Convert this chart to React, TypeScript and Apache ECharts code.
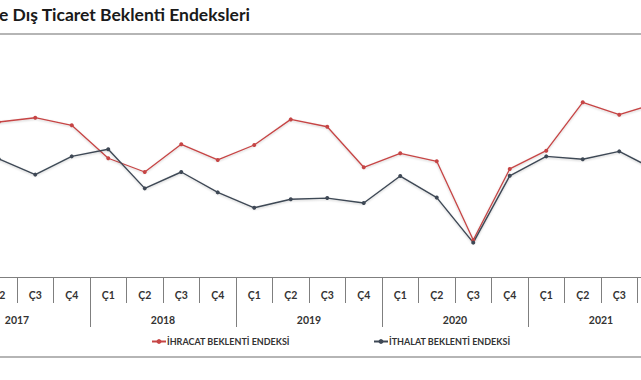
import React, { useEffect, useRef } from "react";
import * as echarts from "echarts";

const quarters = [
  "Ç1", "Ç2", "Ç3", "Ç4",
  "Ç1", "Ç2", "Ç3", "Ç4",
  "Ç1", "Ç2", "Ç3", "Ç4",
  "Ç1", "Ç2", "Ç3", "Ç4",
  "Ç1", "Ç2", "Ç3", "Ç4",
];
const years = ["2017", "2018", "2019", "2020", "2021"];

// First quarter of 2017 lies outside the visible crop: left empty.
const ihracat: (number | null)[] = [
  null, 65.4, 67.2, 64.0,
  50.1, 44.3, 56.0, 49.4,
  55.7, 66.5, 63.4, 46.3,
  52.2, 48.8, 15.6, 45.6,
  53.3, 73.7, 68.5, 73.2,
];
const ithalat: (number | null)[] = [
  null, 49.8, 43.2, 50.9,
  53.9, 37.4, 44.3, 35.7,
  29.2, 32.8, 33.3, 31.2,
  42.6, 33.5, 14.5, 42.7,
  50.9, 49.7, 53.0, 45.1,
];

const seriesNames = ["İHRACAT BEKLENTİ ENDEKSİ", "İTHALAT BEKLENTİ ENDEKSİ"];
const titleText = "e Dış Ticaret Beklenti Endeksleri";

const OFFSET = 56; // chart canvas starts 56px left of the visible window
const CHART_W = 730;

export default function App() {
  const ref = useRef<HTMLDivElement>(null);
  useEffect(() => {
    if (!ref.current) return;
    const chart = echarts.init(ref.current, null, { renderer: "svg" });
    const font = "Lato, 'Open Sans', sans-serif";
    chart.setOption({
      animation: false,
      backgroundColor: "#ffffff",
      textStyle: { fontFamily: font },
      title: {
        text: titleText,
        left: OFFSET - 1,
        top: 5,
        padding: 0,
        textStyle: { fontSize: 17.5, fontWeight: "bold", color: "#1a1a1a", fontFamily: font },
      },
      legend: [
        {
          data: [seriesNames[0]],
          left: OFFSET + 151,
          top: 337,
          padding: 0,
          itemWidth: 14,
          itemHeight: 6,
          textStyle: { fontSize: 9, fontWeight: "bold", color: "#333", fontFamily: font, padding: [0, 0, 0, -4] },
        },
        {
          data: [seriesNames[1]],
          left: OFFSET + 373,
          top: 337,
          padding: 0,
          itemWidth: 14,
          itemHeight: 6,
          textStyle: { fontSize: 9, fontWeight: "bold", color: "#333", fontFamily: font, padding: [0, 0, 0, -4] },
        },
      ],
      graphic: [
        { type: "line", shape: { x1: OFFSET, y1: 34, x2: OFFSET + 641, y2: 34 }, style: { stroke: "#b5b5b5", lineWidth: 2 } },
        { type: "line", shape: { x1: OFFSET, y1: 357, x2: OFFSET + 641, y2: 357 }, style: { stroke: "#b5b5b5", lineWidth: 2 } },
      ],
      grid: { left: 0, right: 0, top: 40, bottom: 103, containLabel: false },
      xAxis: [
        {
          type: "category",
          data: quarters,
          boundaryGap: true,
          position: "bottom",
          axisLine: { show: true, lineStyle: { color: "#7f7f7f", width: 1 } },
          axisTick: { show: true, interval: 0, length: 26, lineStyle: { color: "#7f7f7f" } },
          axisLabel: { interval: 0, margin: 12, fontSize: 10.5, fontWeight: "bold", color: "#333", fontFamily: font },
          splitLine: { show: false },
        },
        {
          type: "category",
          data: years,
          boundaryGap: true,
          position: "bottom",
          axisLine: { show: false },
          axisTick: { show: true, interval: 0, length: 50, lineStyle: { color: "#7f7f7f" } },
          axisLabel: { interval: 0, margin: 37, fontSize: 10.5, fontWeight: "bold", color: "#333", fontFamily: font },
          splitLine: { show: false },
        },
      ],
      yAxis: {
        type: "value",
        min: 0,
        max: 100,
        show: false,
        splitLine: { show: false },
      },
      series: [
        {
          name: seriesNames[0],
          type: "line",
          xAxisIndex: 0,
          data: ihracat,
          symbol: "circle",
          symbolSize: 4,
          itemStyle: { color: "#c64545" },
          lineStyle: { color: "#c64545", width: 1.3, shadowColor: "rgba(0,0,0,0.2)", shadowBlur: 2, shadowOffsetY: 1 },
        },
        {
          name: seriesNames[1],
          type: "line",
          xAxisIndex: 0,
          data: ithalat,
          symbol: "circle",
          symbolSize: 4,
          itemStyle: { color: "#3e4855" },
          lineStyle: { color: "#3e4855", width: 1.4, shadowColor: "rgba(0,0,0,0.2)", shadowBlur: 2, shadowOffsetY: 1 },
        },
      ],
    });
    return () => chart.dispose();
  }, []);
  return (
    <div style={{ position: "fixed", left: 0, top: 0, width: 641, height: 380, overflow: "hidden", background: "#fff" }}>
      <div ref={ref} style={{ position: "absolute", left: -OFFSET, top: 0, width: CHART_W, height: 380 }} />
    </div>
  );
}
